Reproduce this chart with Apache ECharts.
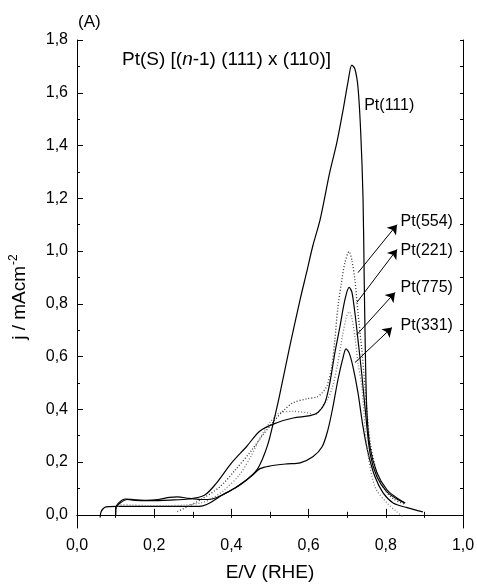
<!DOCTYPE html>
<html><head><meta charset="utf-8">
<script src="https://cdn.jsdelivr.net/npm/echarts@6/dist/echarts.min.js"></script>
<style>html,body{margin:0;padding:0;background:#fff}#c{width:477px;height:584px}</style>
</head><body><div id="c"></div>
<script>
// ---- data ----
const xMajorTicks = [0.0, 0.2, 0.4, 0.6, 0.8, 1.0];
const yMajorTicks = [0.0, 0.2, 0.4, 0.6, 0.8, 1.0, 1.2, 1.4, 1.6, 1.8];
const yMinorTicks = [0.1, 0.3, 0.5, 0.7, 0.9, 1.1, 1.3, 1.5, 1.7];

const pt111 = [[0.100,0.000],[0.101,0.030],[0.110,0.048],[0.125,0.060],[0.150,0.057],[0.180,0.055],[0.210,0.058],[0.240,0.066],[0.260,0.068],[0.290,0.062],[0.320,0.058],[0.350,0.060],[0.380,0.078],[0.410,0.103],[0.440,0.133],[0.466,0.170],[0.480,0.210],[0.495,0.270],[0.508,0.345],[0.523,0.440],[0.550,0.630],[0.578,0.816],[0.595,0.920],[0.611,1.020],[0.630,1.120],[0.655,1.300],[0.673,1.410],[0.690,1.540],[0.702,1.640],[0.712,1.705],[0.720,1.690],[0.728,1.620],[0.735,1.450],[0.741,1.200],[0.744,0.900],[0.747,0.620],[0.751,0.390],[0.759,0.258],[0.777,0.160],[0.803,0.095],[0.829,0.064],[0.850,0.045]];

const pt554 = [[0.260,0.012],[0.285,0.030],[0.320,0.057],[0.370,0.106],[0.410,0.170],[0.450,0.240],[0.480,0.300],[0.510,0.355],[0.535,0.395],[0.560,0.425],[0.596,0.440],[0.622,0.447],[0.635,0.462],[0.648,0.490],[0.660,0.560],[0.668,0.663],[0.676,0.788],[0.686,0.890],[0.694,0.955],[0.705,0.998],[0.712,0.966],[0.720,0.890],[0.728,0.765],[0.738,0.625],[0.746,0.485],[0.752,0.380],[0.760,0.270],[0.775,0.170],[0.795,0.100],[0.820,0.060],[0.850,0.040]];

const pt221 = [[0.100,0.000],[0.101,0.028],[0.112,0.045],[0.130,0.058],[0.150,0.055],[0.190,0.054],[0.240,0.056],[0.290,0.060],[0.330,0.074],[0.360,0.118],[0.400,0.196],[0.440,0.260],[0.474,0.318],[0.518,0.349],[0.560,0.367],[0.604,0.376],[0.624,0.388],[0.642,0.424],[0.655,0.500],[0.668,0.614],[0.681,0.712],[0.694,0.815],[0.705,0.862],[0.712,0.845],[0.720,0.765],[0.728,0.663],[0.738,0.530],[0.746,0.410],[0.759,0.235],[0.777,0.144],[0.803,0.087],[0.837,0.053],[0.850,0.045]];

const pt775 = [[0.100,0.000],[0.102,0.025],[0.115,0.038],[0.140,0.037],[0.180,0.035],[0.230,0.035],[0.280,0.037],[0.320,0.045],[0.350,0.062],[0.380,0.092],[0.420,0.150],[0.450,0.220],[0.474,0.290],[0.500,0.350],[0.526,0.387],[0.560,0.392],[0.596,0.387],[0.617,0.380],[0.630,0.398],[0.648,0.436],[0.661,0.480],[0.675,0.570],[0.688,0.680],[0.698,0.750],[0.705,0.770],[0.712,0.746],[0.720,0.675],[0.728,0.576],[0.738,0.485],[0.751,0.258],[0.772,0.106],[0.803,0.045],[0.829,0.011],[0.845,-0.008]];

const pt331 = [[0.060,-0.010],[0.062,0.010],[0.067,0.022],[0.075,0.030],[0.100,0.032],[0.200,0.032],[0.300,0.032],[0.326,0.034],[0.345,0.046],[0.378,0.076],[0.415,0.106],[0.456,0.152],[0.474,0.175],[0.500,0.185],[0.544,0.193],[0.578,0.197],[0.611,0.220],[0.635,0.258],[0.650,0.322],[0.663,0.409],[0.676,0.512],[0.689,0.595],[0.697,0.629],[0.705,0.614],[0.715,0.561],[0.728,0.462],[0.741,0.333],[0.754,0.235],[0.772,0.144],[0.793,0.083],[0.819,0.045],[0.855,0.027],[0.896,0.011]];

// annotation labels and arrows (data coordinates)
const labelNames = ['Pt(111)', 'Pt(554)', 'Pt(221)', 'Pt(775)', 'Pt(331)'];
const labelPoints = [[0.744,1.550],[0.838,1.110],[0.838,1.003],[0.838,0.863],[0.838,0.718]];
const arrowFrom = [[0.728,0.918],[0.725,0.805],[0.725,0.683],[0.720,0.577]];
const arrowTo   = [[0.829,1.100],[0.829,1.006],[0.824,0.843],[0.816,0.710]];

// ---- chart ----
const FONT = '"Liberation Sans", Arial, sans-serif';
const fmt = v => v.toFixed(1).replace('.', ',');
const chart = echarts.init(document.getElementById('c'), null, {renderer: 'canvas'});

function lineSeries(name, data, type, color) {
  return {
    type: 'line', name: name, data: data, symbol: 'none', showSymbol: false,
    smooth: 0.3, xAxisIndex: 0, yAxisIndex: 0, silent: true,
    lineStyle: {color: color, width: type === 'solid' ? 1.2 : 1.3, type: type}
  };
}

chart.setOption({
  animation: false,
  backgroundColor: '#fff',
  grid: {left: 77, right: 14, top: 40, bottom: 56, containLabel: false, outerBoundsMode: 'none'},
  xAxis: [
    {
      type: 'value', position: 'bottom', min: 0, max: 1, interval: 0.2,
      name: 'E/V (RHE)', nameLocation: 'middle', nameGap: 35,
      nameTextStyle: {fontFamily: FONT, fontSize: 19, color: '#000'},
      axisLine: {show: true, lineStyle: {color: '#000', width: 1}},
      axisTick: {show: true, inside: true, length: 6, lineStyle: {color: '#000'}},
      minorTick: {show: true, splitNumber: 2, length: 3, lineStyle: {color: '#000'}},
      axisLabel: {show: true, margin: 10, formatter: fmt, fontFamily: FONT, fontSize: 16, color: '#000'},
      splitLine: {show: false}, minorSplitLine: {show: false}
    },
    {
      type: 'value', position: 'top', min: 0, max: 1, interval: 0.1,
      axisLine: {show: true, lineStyle: {color: '#000', width: 1}},
      axisTick: {show: true, inside: true, length: 3, lineStyle: {color: '#000'}},
      axisLabel: {show: false}, splitLine: {show: false}
    }
  ],
  yAxis: [
    {
      type: 'value', position: 'left', min: -0.05, max: 1.8,
      axisLine: {show: true, lineStyle: {color: '#000', width: 1}},
      axisTick: {show: true, inside: true, length: 6, customValues: yMajorTicks, lineStyle: {color: '#000'}},
      axisLabel: {show: true, margin: 9, customValues: yMajorTicks, formatter: fmt, fontFamily: FONT, fontSize: 16, color: '#000'},
      splitLine: {show: false}
    },
    {
      type: 'value', position: 'left', min: -0.05, max: 1.8,
      axisLine: {show: false},
      axisTick: {show: true, inside: true, length: 3, customValues: yMinorTicks, lineStyle: {color: '#000'}},
      axisLabel: {show: false}, splitLine: {show: false}
    },
    {
      type: 'value', position: 'right', min: -0.05, max: 1.8,
      axisLine: {show: true, lineStyle: {color: '#000', width: 1}},
      axisTick: {show: true, inside: true, length: 3, customValues: yMajorTicks.concat(yMinorTicks), lineStyle: {color: '#000'}},
      axisLabel: {show: false}, splitLine: {show: false}
    }
  ],
  series: [
    lineSeries('Pt(331)', pt331, 'solid', '#000'),
    lineSeries('Pt(775)', pt775, [1, 2], '#777'),
    lineSeries('Pt(221)', pt221, 'solid', '#000'),
    lineSeries('Pt(554)', pt554, [1, 2], '#333'),
    lineSeries('Pt(111)', pt111, 'solid', '#000'),
    {
      type: 'scatter', xAxisIndex: 0, yAxisIndex: 0, silent: true,
      symbol: 'circle', symbolSize: 0, itemStyle: {color: '#000', opacity: 1},
      data: labelNames.map((n, i) => ({name: n, value: labelPoints[i]})),
      label: {show: true, position: 'right', distance: 0, formatter: '{b}', opacity: 1,
              textBorderWidth: 0, fontFamily: FONT, fontSize: 16, color: '#000'},
      markLine: {
        silent: true, animation: false,
        symbol: ['none', 'arrow'], symbolSize: 9,
        lineStyle: {color: '#000', width: 1, type: 'solid'},
        label: {show: false},
        data: arrowFrom.map((f, i) => [{coord: f}, {coord: arrowTo[i]}])
      }
    }
  ],
  graphic: [
    {type: 'text', left: 78, top: 14, silent: true,
     style: {text: '(A)', font: '17px ' + FONT, fill: '#000'}},
    {type: 'text', x: 122, y: 60, silent: true,
     style: {text: 'Pt(S) [({i|n}-1) (111) x (110)]', font: '19px ' + FONT, fill: '#000',
             verticalAlign: 'middle', align: 'left',
             rich: {i: {fontStyle: 'italic', fontSize: 19, fontFamily: FONT}}}},
    {type: 'text', x: 20, y: 297, rotation: Math.PI / 2, silent: true,
     style: {text: 'j / mAcm{s|-2}', font: '19px ' + FONT, fill: '#000',
             align: 'center', verticalAlign: 'middle',
             rich: {s: {fontSize: 12, fontFamily: FONT, padding: [0, 0, 12, 1]}}}}
  ]
});
</script></body></html>
